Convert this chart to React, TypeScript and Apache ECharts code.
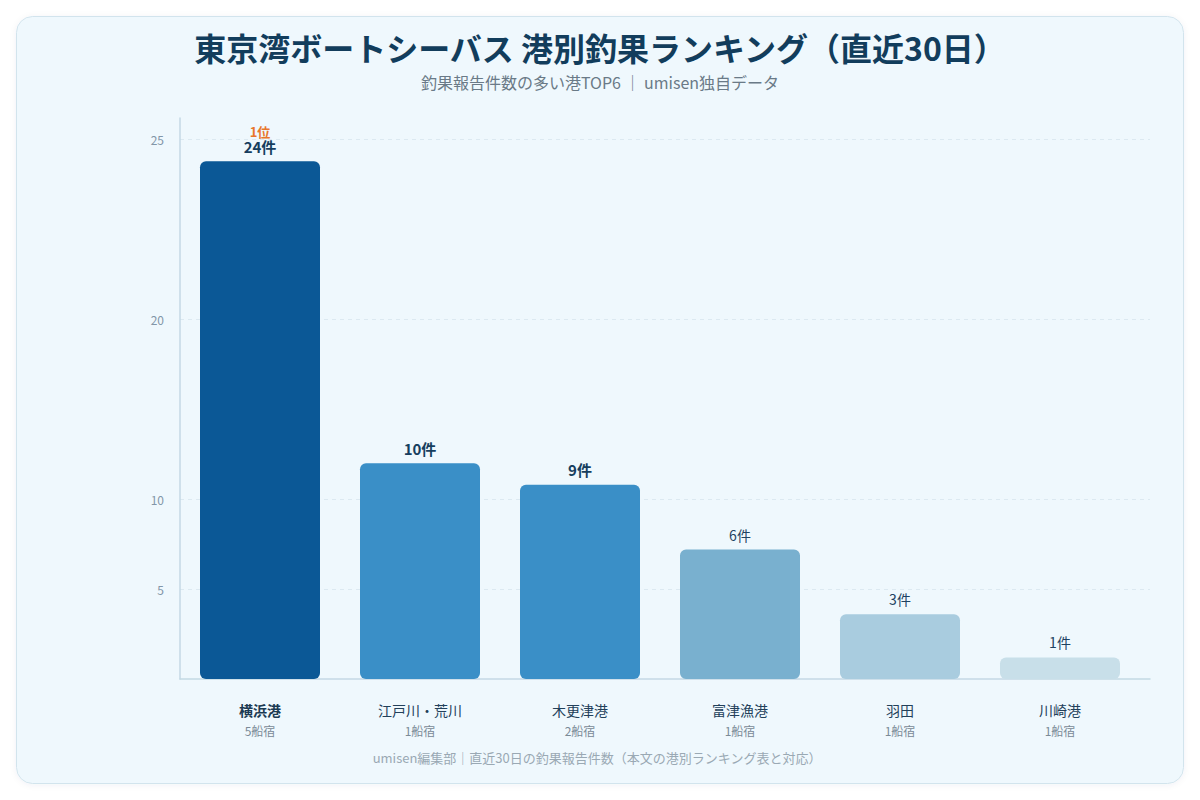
import React, { useEffect, useRef } from "react";
import * as echarts from "echarts";

const ports = ["横浜港", "江戸川・荒川", "木更津港", "富津漁港", "羽田", "川崎港"];
const shopCounts = [5, 1, 2, 1, 1, 1];
const catchCounts = [24, 10, 9, 6, 3, 1];
const yTickLabels = ["", "5", "10", "", "20", "", "25"];
const barColors = ["#0B5896", "#3A8FC7", "#3A8FC7", "#79B0CF", "#A9CCDF", "#C8DFE9"];

const titleText = "東京湾ボートシーバス 港別釣果ランキング（直近30日）";
const subtitleText = "釣果報告件数の多い港TOP6 ｜ umisen独自データ";
const footerText = "umisen編集部｜直近30日の釣果報告件数（本文の港別ランキング表と対応）";

export default function App() {
  const ref = useRef<HTMLDivElement>(null);
  useEffect(() => {
    if (!ref.current) return;
    const chart = echarts.init(ref.current, null, { renderer: "svg" });
    const font = "'Noto Sans CJK JP', 'Noto Sans', sans-serif";
    const gridTop = 118;
    const gridBottom = 679;
    const h = gridBottom - gridTop;
    const tickColor = "#DCE9F1";
    const axisColor = "#C4D9E4";
    const option: any = {
      animation: false,
      textStyle: { fontFamily: font },
      graphic: [
        {
          type: "rect",
          z: -10,
          silent: true,
          shape: { x: 16.5, y: 16.5, width: 1167, height: 767, r: 16 },
          style: {
            fill: "#EFF8FD",
            stroke: "#D2E4ED",
            lineWidth: 1,
            shadowBlur: 6,
            shadowColor: "rgba(20,60,90,0.06)",
            shadowOffsetY: 1,
          },
        },
        {
          type: "text",
          x: 600,
          y: 47,
          style: {
            text: titleText,
            fill: "#123D5C",
            font: `bold 32px ${font}`,
            textAlign: "center",
            textVerticalAlign: "middle",
          },
        },
        {
          type: "text",
          x: 600,
          y: 82,
          style: {
            text: subtitleText,
            fill: "#6A7A87",
            font: `16px ${font}`,
            textAlign: "center",
            textVerticalAlign: "middle",
          },
        },
        {
          type: "text",
          x: 597,
          y: 757,
          style: {
            text: footerText,
            fill: "#9AA9B4",
            font: `13px ${font}`,
            textAlign: "center",
            textVerticalAlign: "middle",
          },
        },
      ],
      grid: [
        { left: 180, right: 60, top: gridTop, bottom: 800 - gridBottom },
        { left: 180, right: 50, top: gridTop, bottom: 800 - gridBottom },
      ],
      xAxis: [
        {
          type: "category",
          gridIndex: 0,
          data: ports,
          axisLine: { show: false },
          axisTick: { show: false },
          axisLabel: {
            margin: 21,
            interval: 0,
            formatter: (v: string, i: number) =>
              i === 0
                ? `{nameB|${v}}\n{sub|${shopCounts[i]}船宿}`
                : `{name|${v}}\n{sub|${shopCounts[i]}船宿}`,
            rich: {
              nameB: { fontSize: 14, fontWeight: "bold", color: "#1B3A52", lineHeight: 20, fontFamily: font },
              name: { fontSize: 14, color: "#22405A", lineHeight: 20, fontFamily: font },
              sub: { fontSize: 12, color: "#7A8A97", lineHeight: 20, fontFamily: font },
            },
          },
        },
        {
          type: "value",
          gridIndex: 1,
          min: 0,
          max: 1,
          axisLine: { show: true, onZero: false, lineStyle: { color: axisColor, width: 1.5 } },
          axisTick: { show: false },
          axisLabel: { show: false },
          splitLine: { show: false },
        },
      ],
      yAxis: [
        {
          type: "value",
          gridIndex: 0,
          min: 0,
          max: 26,
          axisLine: { show: false },
          axisTick: { show: false },
          axisLabel: { show: false },
          splitLine: { show: false },
        },
        {
          type: "value",
          gridIndex: 1,
          min: 0,
          max: (6 * h) / 540,
          interval: 1,
          position: "left",
          axisLine: { show: true, onZero: false, lineStyle: { color: axisColor, width: 1.5 } },
          axisTick: { show: false },
          axisLabel: {
            margin: 16,
            color: "#8296A8",
            fontSize: 12,
            fontFamily: font,
            formatter: (v: number) => yTickLabels[v] ?? "",
          },
          splitLine: {
            show: true,
            lineStyle: {
              type: [4, 4],
              width: 1,
              color: ["transparent", tickColor, tickColor, "transparent", tickColor, "transparent", tickColor, "transparent"],
            },
          },
        },
      ],
      series: [
        {
          type: "bar",
          xAxisIndex: 0,
          yAxisIndex: 0,
          barWidth: 120,
          data: catchCounts.map((v, i) => ({ value: v, itemStyle: { color: barColors[i] } })),
          itemStyle: { borderRadius: 6 },
          label: {
            show: true,
            position: "top",
            distance: 8,
            formatter: (p: any) => {
              const i = p.dataIndex;
              if (i === 0) return `{rank|${i + 1}位}\n{big|${p.value}件}`;
              if (i < 3) return `{big|${p.value}件}`;
              return `{small|${p.value}件}`;
            },
            rich: {
              rank: { fontSize: 13, fontWeight: "bold", color: "#E8762B", lineHeight: 16, fontFamily: font },
              big: { fontSize: 15, fontWeight: "bold", color: "#163E5E", lineHeight: 14, fontFamily: font },
              small: { fontSize: 14, color: "#1E4262", lineHeight: 14, fontFamily: font },
            },
          },
        },
      ],
    };
    chart.setOption(option);
    return () => chart.dispose();
  }, []);
  return (
    <div
      ref={ref}
      style={{ position: "absolute", left: 0, top: 0, width: 1200, height: 800, background: "#FFFFFF" }}
    />
  );
}
